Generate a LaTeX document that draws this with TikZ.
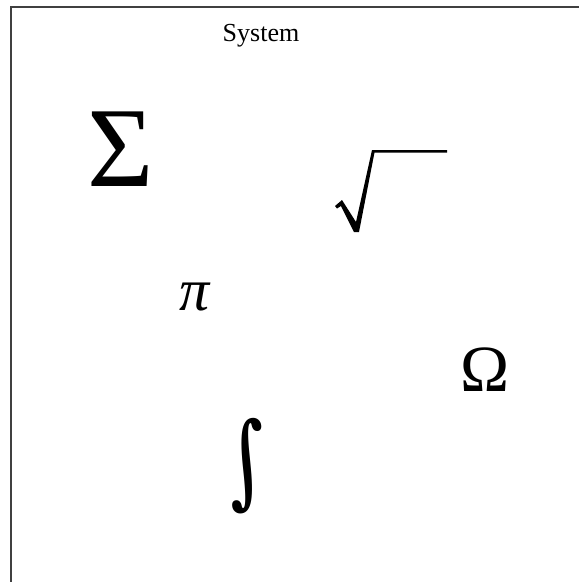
\documentclass[tikz,border=0pt]{standalone}
\usepackage{fontspec}
\setmainfont{Liberation Serif}
\newfontfamily\intfont{DejaVu Serif}
\begin{document}
\begin{tikzpicture}[x=1pt,y=-1pt,
  frame/.style={draw=black!75,line width=2pt},
  sym/.style={inner sep=0pt,anchor=center,text=black}]
\useasboundingbox (0,0) rectangle (579,582);
\coordinate (tl) at (10.5,6.5);
\coordinate (tr) at (580,6.5);
\coordinate (bl) at (10.5,583);
\draw[frame] (tr) -- (tl) -- (bl);
\node[sym] (title) at (261,36) {\fontsize{26}{30}\selectfont System};
\node[sym] (sigma) at (121,149.5) {\fontsize{114}{120}\selectfont Σ};
\node[sym] (pi) at (195,297) {\fontsize{60}{70}\selectfont\itshape π};
\node[sym] (omega) at (485,370) {\fontsize{66}{72}\selectfont Ω};
\begin{scope}[shift={(247,466)}]
  \node[sym,xslant=-0.12,xscale=0.8,transform shape] (int) at (0,0)
    {\fontsize{102}{120}\selectfont\intfont ∫};
\end{scope}
\fill[black] (335,206) -- (342,200) -- (356,222) -- (372,150) -- (447,150)
  -- (447,152.5) -- (374.5,152.5) -- (359,232) -- (354,232) -- (341,206)
  -- (337,208.5) -- cycle;
\end{tikzpicture}
\end{document}
